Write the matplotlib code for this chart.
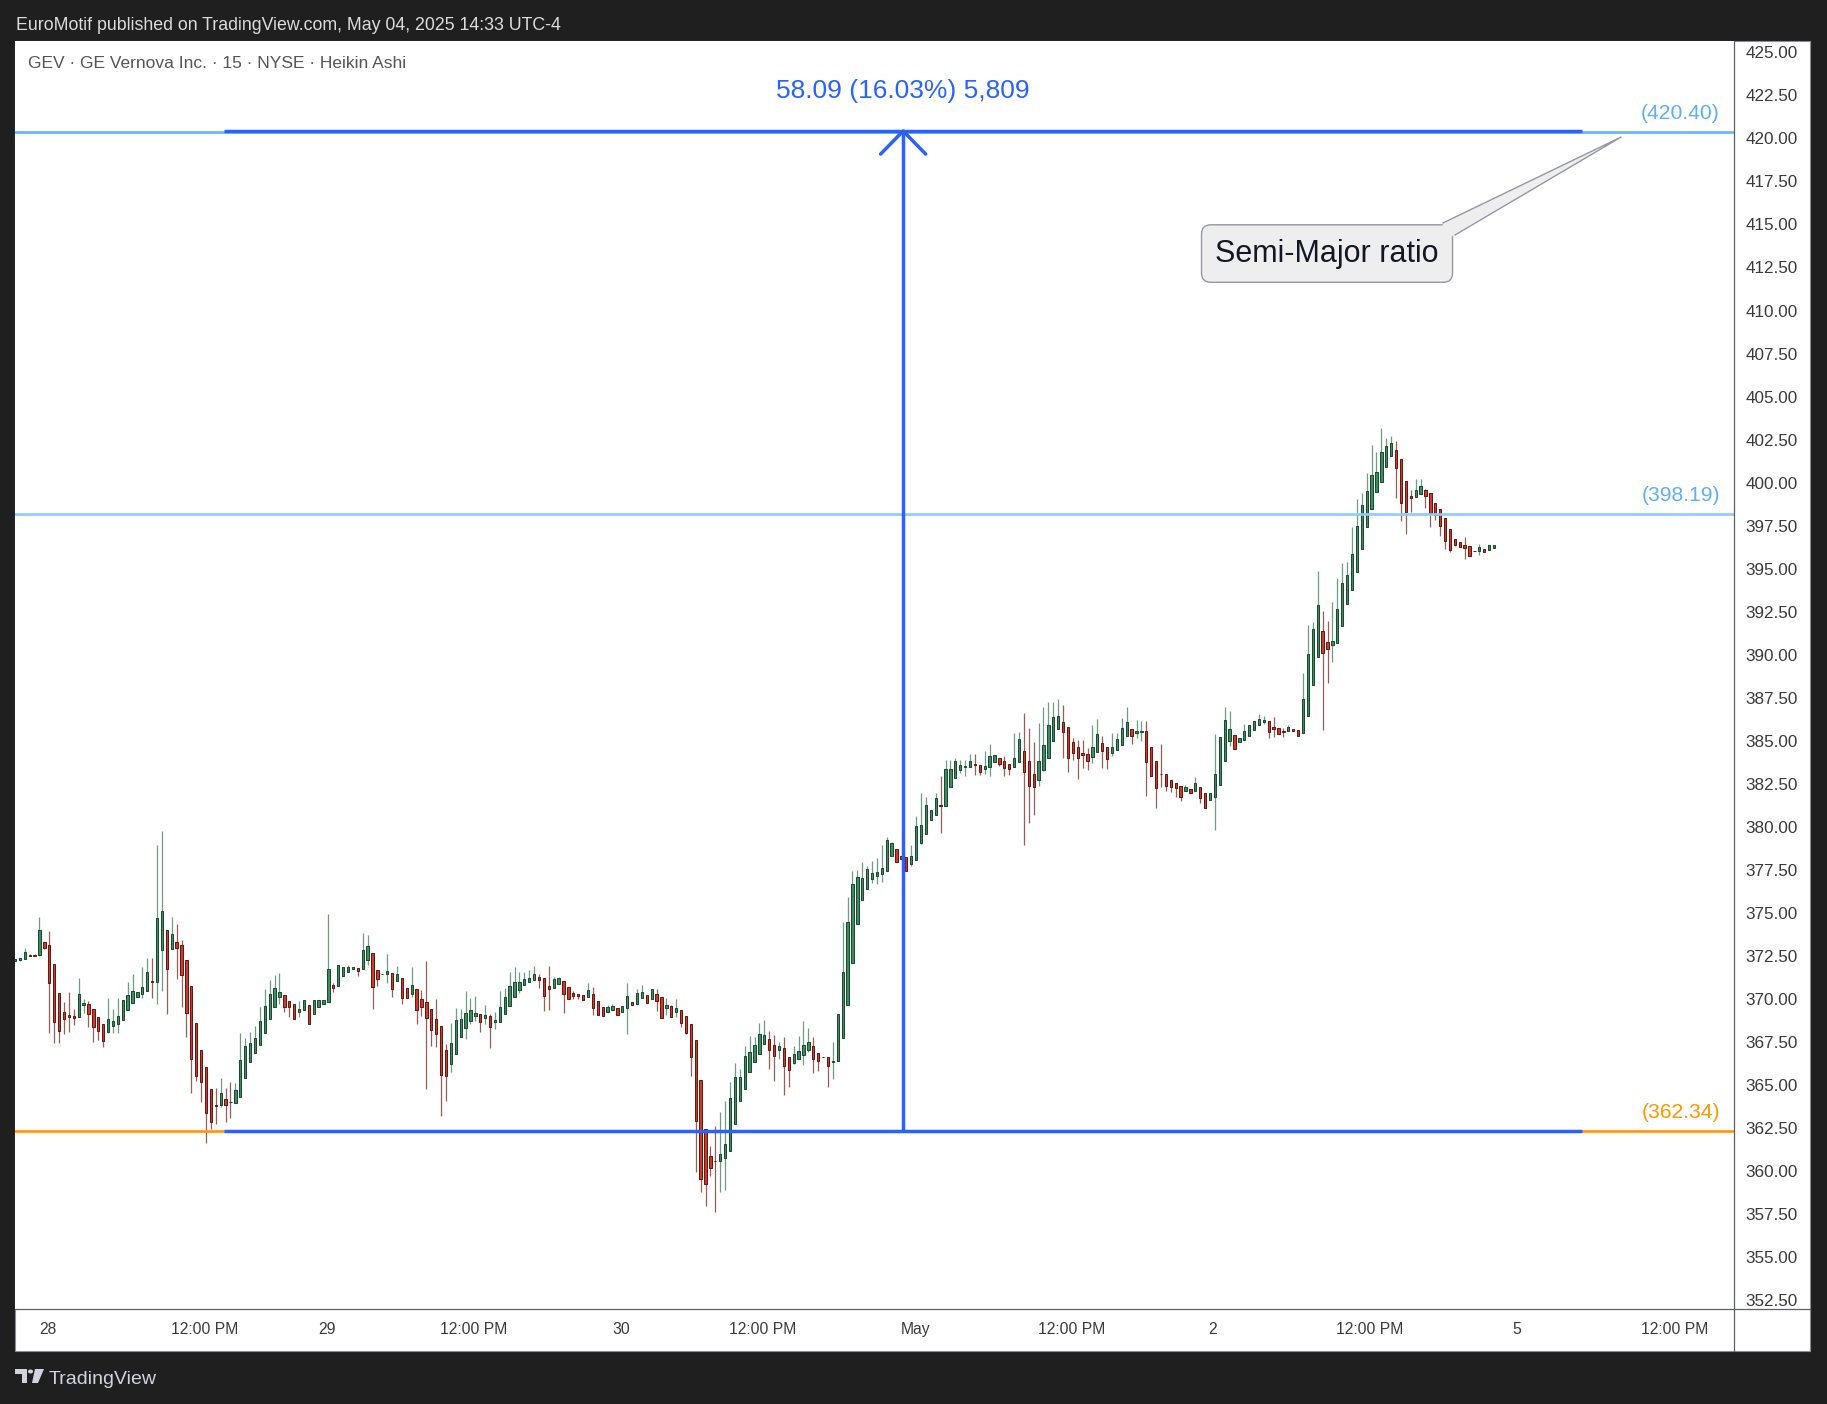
import numpy as np
import matplotlib
matplotlib.use("Agg")
import matplotlib.pyplot as plt
from matplotlib.patches import Rectangle, Polygon, Circle
from matplotlib.lines import Line2D

plt.rcParams['font.family'] = ['Liberation Sans', 'DejaVu Sans']

# GEV 15m Heikin Ashi candles
ha_open = [
    372.20, 372.25, 372.30, 372.54, 372.54, 372.54, 373.29, 373.12, 372.01, 370.33,
    369.22, 369.05, 369.01, 368.93, 369.63, 369.69, 369.40, 368.93, 368.53, 368.06,
    368.41, 368.53, 368.76, 369.34, 369.75, 370.10, 370.27, 370.45, 371.02, 371.01,
    372.83, 373.99, 372.89, 373.29, 373.12, 372.25, 370.74, 368.59, 367.02, 366.07,
    364.75, 363.84, 363.82, 364.17, 364.00, 363.94, 364.29, 365.39, 366.32, 366.84,
    367.31, 368.00, 368.82, 369.52, 370.10, 370.21, 369.86, 369.69, 369.26, 369.34,
    369.63, 369.11, 369.52, 369.69, 369.81, 370.79, 370.74, 371.32, 371.55, 371.72,
    371.78, 371.72, 372.25, 372.65, 371.67, 371.45, 371.43, 371.49, 371.03, 371.20,
    370.62, 370.31, 370.56, 369.98, 369.80, 369.40, 368.82, 368.41, 367.02, 366.24,
    366.82, 367.81, 368.33, 368.74, 369.03, 369.11, 368.91, 368.99, 368.68, 368.68,
    369.11, 369.61, 370.13, 370.54, 370.79, 370.97, 371.08, 371.26, 371.20, 370.73,
    370.62, 370.85, 371.02, 370.68, 370.33, 370.27, 370.21, 370.10, 370.27, 369.86,
    369.51, 369.26, 369.38, 369.46, 369.26, 369.46, 369.80, 369.69, 370.04, 370.21,
    369.98, 370.27, 370.10, 369.49, 369.57, 369.26, 369.34, 368.99, 368.53, 367.60,
    365.27, 362.42, 360.86, 360.58, 360.57, 360.78, 361.15, 362.72, 364.05, 364.75,
    365.74, 366.32, 366.78, 367.36, 367.65, 367.31, 367.02, 367.13, 366.61, 366.26,
    366.49, 366.72, 367.02, 367.25, 366.84, 366.62, 366.61, 366.32, 366.38, 367.71,
    369.63, 372.07, 374.34, 375.73, 376.37, 376.95, 377.13, 377.25, 377.42, 378.29,
    378.70, 378.29, 378.23, 377.83, 378.06, 379.05, 379.57, 380.38, 380.67, 381.25,
    381.20, 382.30, 382.82, 383.29, 383.46, 383.46, 383.64, 383.58, 383.35, 383.46,
    383.75, 383.99, 383.81, 383.64, 383.46, 383.75, 384.39, 383.81, 383.06, 382.71,
    383.29, 383.99, 384.97, 385.67, 386.08, 385.79, 384.92, 384.62, 384.28, 384.22,
    384.04, 384.33, 384.86, 384.62, 384.28, 384.45, 384.74, 385.26, 385.67, 385.44,
    385.50, 385.55, 384.62, 383.81, 383.07, 383.06, 382.71, 382.53, 382.36, 382.07,
    382.18, 382.07, 382.30, 381.95, 381.55, 381.72, 382.42, 383.81, 384.97, 385.32,
    384.92, 385.03, 385.26, 385.61, 385.90, 386.08, 386.14, 385.78, 385.72, 385.55,
    385.55, 385.66, 385.61, 385.43, 386.42, 388.22, 389.85, 391.36, 390.72, 390.55,
    390.66, 391.65, 392.93, 393.74, 394.79, 396.12, 397.40, 398.45, 399.44, 400.02,
    400.89, 401.53, 401.88, 401.35, 400.07, 399.20, 399.14, 399.32, 399.55, 399.38,
    398.80, 398.45, 397.92, 397.29, 396.70, 396.53, 396.36, 396.30, 396.02, 396.01,
    396.12, 396.07, 396.18,
]
ha_close = [
    372.30, 372.36, 372.75, 372.52, 372.52, 374.01, 372.94, 370.91, 368.64, 368.12,
    368.86, 368.93, 368.91, 370.27, 369.77, 369.11, 368.39, 368.16, 367.58, 368.82,
    368.70, 368.99, 369.92, 370.21, 370.45, 370.39, 370.68, 371.55, 371.00, 374.71,
    375.09, 371.76, 373.76, 372.94, 371.37, 369.17, 366.49, 365.49, 365.16, 363.36,
    362.83, 363.80, 364.52, 363.82, 363.98, 364.69, 366.44, 367.25, 367.42, 367.71,
    368.70, 369.57, 370.27, 370.62, 370.39, 369.52, 369.52, 368.82, 369.40, 369.92,
    368.53, 369.92, 369.92, 369.92, 371.72, 370.62, 371.96, 371.84, 371.84, 371.84,
    371.61, 372.83, 373.06, 370.68, 371.14, 371.43, 371.61, 370.56, 371.43, 370.04,
    370.04, 370.79, 369.38, 369.55, 368.91, 368.22, 367.98, 365.60, 365.54, 367.42,
    368.76, 368.84, 369.17, 369.34, 369.17, 368.68, 369.05, 368.39, 368.76, 369.51,
    370.09, 370.73, 370.97, 370.97, 371.14, 371.20, 371.43, 371.08, 370.19, 370.56,
    371.14, 371.20, 370.31, 369.98, 370.19, 370.19, 369.92, 370.50, 369.49, 369.09,
    369.03, 369.51, 369.57, 369.09, 369.57, 370.15, 369.63, 370.33, 370.39, 369.75,
    370.56, 369.90, 368.91, 369.63, 368.97, 369.46, 368.62, 368.04, 366.65, 362.93,
    359.56, 359.27, 360.20, 360.56, 360.97, 361.55, 364.23, 365.45, 365.45, 366.67,
    366.90, 367.31, 367.94, 367.89, 367.02, 366.67, 367.25, 366.09, 365.85, 366.78,
    366.96, 367.31, 367.48, 366.49, 366.38, 366.60, 366.09, 366.38, 369.11, 371.55,
    374.45, 376.66, 377.07, 377.01, 377.54, 377.30, 377.36, 377.59, 379.22, 379.05,
    377.94, 378.12, 377.42, 378.29, 380.03, 380.09, 381.25, 380.96, 381.66, 381.20,
    383.35, 383.35, 383.81, 383.58, 383.52, 383.81, 383.58, 383.17, 383.52, 384.10,
    384.16, 383.64, 383.40, 383.35, 383.99, 385.09, 383.17, 382.36, 382.30, 383.81,
    384.74, 385.90, 386.37, 386.43, 385.50, 383.99, 384.28, 383.99, 384.16, 383.81,
    384.62, 385.38, 384.39, 383.93, 384.62, 385.09, 385.73, 386.08, 385.26, 385.55,
    385.55, 383.75, 382.94, 382.24, 383.05, 382.36, 382.30, 382.24, 381.72, 382.30,
    381.95, 382.53, 381.66, 381.08, 381.95, 383.06, 385.21, 386.19, 385.67, 384.51,
    385.15, 385.55, 385.90, 386.14, 386.25, 386.19, 385.50, 385.70, 385.37, 385.49,
    385.78, 385.55, 385.26, 387.41, 390.02, 391.47, 392.87, 390.08, 390.31, 390.78,
    392.64, 394.15, 394.61, 395.83, 397.46, 398.68, 399.49, 400.42, 400.60, 401.76,
    402.11, 402.28, 400.83, 398.80, 398.27, 399.09, 399.55, 399.78, 399.20, 398.22,
    398.10, 397.46, 396.59, 396.07, 396.36, 396.24, 396.18, 395.72, 396.00, 396.24,
    395.95, 396.36, 396.36,
]
ha_high = [
    372.30, 372.40, 372.98, 372.60, 372.60, 374.76, 373.30, 373.95, 372.01, 370.33,
    369.79, 370.41, 369.42, 371.22, 370.00, 369.88, 369.40, 368.93, 368.53, 370.06,
    369.42, 370.06, 369.92, 370.99, 371.45, 370.39, 371.86, 372.38, 372.38, 378.95,
    379.76, 373.99, 374.76, 374.36, 373.43, 372.25, 370.74, 368.59, 367.02, 366.07,
    364.75, 364.81, 365.43, 364.81, 365.16, 365.10, 368.00, 367.71, 368.06, 368.41,
    369.52, 370.56, 371.08, 371.37, 371.49, 370.21, 369.86, 369.69, 369.86, 369.92,
    369.63, 369.92, 369.92, 369.92, 374.92, 370.91, 371.96, 371.84, 371.96, 371.84,
    371.78, 373.82, 373.70, 372.65, 371.67, 371.45, 372.59, 371.50, 371.92, 371.20,
    370.62, 371.86, 370.56, 370.52, 372.21, 369.40, 370.00, 368.41, 367.38, 368.60,
    369.49, 369.42, 370.46, 370.06, 370.15, 369.11, 369.63, 369.13, 369.24, 370.46,
    370.62, 371.57, 371.86, 371.57, 371.57, 371.68, 371.92, 371.45, 371.20, 371.92,
    371.28, 371.28, 371.02, 370.68, 370.46, 370.27, 370.21, 370.93, 370.68, 369.86,
    369.51, 369.63, 369.69, 369.46, 369.57, 370.93, 369.80, 370.56, 370.79, 370.21,
    370.56, 370.56, 370.10, 370.04, 369.63, 369.98, 369.34, 368.99, 368.53, 367.60,
    365.27, 362.42, 361.44, 362.60, 363.41, 364.05, 365.16, 366.26, 365.91, 367.29,
    367.87, 367.81, 368.58, 368.76, 368.16, 367.89, 367.52, 367.81, 366.61, 367.25,
    367.83, 368.70, 368.29, 367.79, 366.84, 366.62, 366.61, 367.48, 369.11, 374.45,
    375.91, 377.46, 377.48, 377.96, 377.71, 378.02, 378.18, 378.93, 379.40, 379.10,
    378.70, 378.29, 378.23, 378.93, 380.62, 381.95, 381.72, 380.96, 381.95, 382.94,
    383.87, 383.87, 383.97, 383.87, 383.87, 384.22, 384.22, 383.58, 384.41, 384.80,
    384.16, 383.99, 384.10, 383.64, 385.44, 385.50, 386.62, 385.73, 384.92, 386.02,
    386.95, 387.24, 387.24, 387.41, 387.06, 385.79, 385.15, 385.03, 385.03, 384.57,
    385.90, 386.25, 385.26, 384.62, 385.44, 385.44, 386.31, 386.95, 385.67, 386.19,
    386.14, 386.14, 384.62, 383.81, 384.80, 383.06, 382.71, 382.53, 382.36, 382.42,
    382.18, 382.88, 382.30, 381.95, 381.95, 385.38, 385.21, 386.95, 386.72, 385.32,
    385.15, 385.96, 385.90, 386.14, 386.54, 386.43, 386.14, 386.38, 385.72, 385.72,
    385.90, 385.66, 385.61, 388.92, 391.71, 391.88, 394.85, 392.52, 391.94, 393.04,
    394.44, 395.31, 395.37, 397.40, 399.03, 399.38, 400.54, 402.17, 401.76, 403.15,
    402.57, 402.69, 402.40, 401.35, 400.07, 399.55, 400.19, 400.19, 399.61, 399.38,
    398.80, 398.45, 397.92, 397.29, 396.70, 396.53, 396.86, 396.30, 396.02, 396.41,
    396.12, 396.36, 396.36,
]
ha_low = [
    372.20, 372.20, 372.30, 372.50, 372.50, 372.50, 372.90, 368.00, 367.42, 367.42,
    367.95, 368.10, 368.49, 368.93, 369.17, 368.39, 367.52, 367.62, 367.23, 368.00,
    368.00, 368.00, 368.76, 369.34, 369.75, 370.10, 370.04, 370.45, 370.08, 369.73,
    370.46, 369.15, 372.89, 371.18, 369.55, 367.81, 364.52, 365.20, 363.98, 361.65,
    362.43, 362.72, 363.71, 362.83, 363.07, 363.94, 364.29, 365.39, 366.32, 366.84,
    367.31, 368.00, 368.82, 369.52, 369.69, 369.22, 368.93, 368.82, 368.97, 369.34,
    368.53, 369.11, 369.52, 369.69, 369.81, 370.39, 370.74, 371.32, 371.55, 371.72,
    371.32, 371.72, 371.96, 369.44, 370.72, 371.43, 370.95, 370.13, 371.03, 369.69,
    370.04, 370.13, 368.55, 369.01, 364.79, 367.27, 367.23, 363.22, 364.09, 365.78,
    366.82, 367.81, 367.69, 368.56, 368.74, 368.10, 368.56, 367.17, 368.27, 368.68,
    369.11, 369.61, 370.13, 370.37, 370.79, 370.97, 371.08, 370.66, 369.32, 369.38,
    370.62, 370.85, 369.20, 369.98, 369.98, 369.98, 369.92, 370.10, 369.09, 369.09,
    369.03, 369.26, 369.38, 369.09, 369.26, 367.98, 369.63, 369.69, 370.04, 369.75,
    369.98, 369.32, 368.91, 369.09, 368.97, 368.97, 368.39, 367.98, 365.54, 359.96,
    358.80, 357.99, 359.73, 357.64, 358.80, 358.92, 361.15, 362.72, 364.05, 364.75,
    365.74, 366.32, 366.78, 367.36, 365.95, 365.25, 366.49, 364.44, 364.90, 366.20,
    366.49, 366.18, 366.94, 365.68, 365.80, 366.60, 364.90, 365.37, 366.38, 367.71,
    369.63, 372.07, 374.34, 375.73, 376.37, 376.72, 376.66, 376.78, 377.42, 378.29,
    377.94, 378.12, 377.42, 377.71, 378.06, 378.99, 379.57, 380.38, 380.67, 379.63,
    381.20, 382.30, 382.82, 383.11, 382.98, 383.46, 383.00, 383.00, 383.06, 382.98,
    383.75, 383.52, 382.98, 383.00, 383.46, 383.75, 378.97, 380.21, 380.67, 382.36,
    383.23, 383.99, 384.97, 385.67, 383.97, 383.17, 383.87, 382.77, 383.40, 383.29,
    383.70, 384.33, 383.40, 383.35, 384.10, 384.45, 384.74, 385.26, 384.80, 385.15,
    384.97, 381.78, 382.94, 381.08, 382.30, 382.07, 382.01, 381.72, 381.49, 382.07,
    381.95, 382.07, 381.37, 381.08, 381.55, 379.80, 382.42, 383.81, 384.68, 384.51,
    384.92, 385.03, 385.26, 385.61, 385.90, 385.96, 385.15, 385.20, 385.37, 385.20,
    385.55, 385.55, 385.26, 385.43, 386.42, 388.22, 389.85, 385.61, 388.38, 389.56,
    390.66, 391.65, 392.93, 393.74, 394.79, 396.12, 397.40, 398.45, 399.44, 400.02,
    400.89, 401.53, 399.13, 397.75, 397.00, 398.27, 399.14, 399.32, 398.51, 397.40,
    397.81, 396.88, 396.12, 395.95, 396.30, 396.24, 395.54, 395.72, 396.00, 395.77,
    395.95, 396.07, 396.18,
]

# time axis labels (positions in bar numbers)
x_tick_pos = [6.7, 38.8, 63.7, 93.7, 123.7, 152.7, 183.8, 215.8, 244.6, 276.7, 306.7, 338.8]
x_tick_labels = ['28', '12:00 PM', '29', '12:00 PM', '30', '12:00 PM',
                 'May', '12:00 PM', '2', '12:00 PM', '5', '12:00 PM']

# drawn levels
level_top = 420.40
level_mid = 398.19
level_low = 362.34
measure_top = 420.43
measure_low = 362.34
measure_bars = (42.7, 320.0)

W, H = 1827, 1404
fig = plt.figure(figsize=(W / 100, H / 100), dpi=100, facecolor='#1f1f1f')


def fx(px):
    return px / W


def fy(py):
    return 1 - py / H


# white chart panel
panel = Rectangle((fx(15), fy(1351)), fx(1810) - fx(15), fy(41) - fy(1351),
                  transform=fig.transFigure, facecolor='white',
                  edgecolor='#8a8d96', lw=0.8, zorder=-1)
fig.add_artist(panel)

ax = fig.add_axes([fx(15), fy(1309), fx(1734) - fx(15), fy(41) - fy(1309)])
ax.set_facecolor('white')
for s in ax.spines.values():
    s.set_visible(False)

o = np.array(ha_open)
c = np.array(ha_close)
hi = np.maximum(np.array(ha_high), np.maximum(o, c))
lo = np.minimum(np.array(ha_low), np.minimum(o, c))
x = np.arange(len(o))
up = c >= o
dn = ~up

body_bot = np.minimum(o, c)
body_h = np.maximum(np.abs(c - o), 0.03)

ax.vlines(x[up], lo[up], hi[up], color='#6e9c83', lw=0.9, zorder=2)
ax.vlines(x[dn], lo[dn], hi[dn], color='#945f59', lw=0.9, zorder=2)
ax.bar(x[up], body_h[up], bottom=body_bot[up], width=0.47, color='#3f8d62',
       edgecolor='#1d4a31', linewidth=0.75, zorder=3)
ax.bar(x[dn], body_h[dn], bottom=body_bot[dn], width=0.47, color='#d23a2b',
       edgecolor='#5e1c14', linewidth=0.75, zorder=3)

# horizontal levels
ax.axhline(level_top, color='#64b5f6', lw=1.9, zorder=4)
ax.axhline(level_mid, color='#90caf9', lw=1.9, zorder=4)
ax.axhline(level_low, color='#ff9800', lw=1.9, zorder=4)
for lvl, col in [(level_top, '#5fb0f3'), (level_mid, '#5fb0f3'), (level_low, '#ff9800')]:
    ax.annotate(f'({lvl:.2f})', xy=(1, lvl), xycoords=('axes fraction', 'data'),
                xytext=(-14, 18), textcoords='offset pixels', ha='right',
                va='center', fontsize=15.2, color=col)

# price range measurement
mx0, mx1 = measure_bars
mmid = (mx0 + mx1) / 2
blue = '#2962ff'
ax.hlines([measure_top, measure_low], mx0, mx1, color=blue, lw=2.5, zorder=5)
ax.vlines(mmid, measure_low, measure_top, color=blue, lw=2.5, zorder=5)
ax.plot([mmid - 4.6, mmid, mmid + 4.6], [measure_top - 1.34, measure_top, measure_top - 1.34],
        color=blue, lw=2.5, solid_capstyle='round', zorder=5)
diff = measure_top - measure_low
pct = diff / measure_low * 100
ax.annotate(f'{diff:.2f} ({pct:.2f}%) {int(round(diff * 100)):,}', xy=(mmid, measure_top),
            xytext=(0, 40), textcoords='offset pixels', ha='center', va='center',
            fontsize=19, color=blue, zorder=6)

# callout
ax.text(267.9, 413.31, 'Semi-Major ratio', ha='center', va='center', fontsize=22,
        color='#131722', zorder=6,
        bbox=dict(boxstyle='round,pad=0.45,rounding_size=0.3', fc='#eeeeee',
                  ec='#9598a1', lw=1))
ax.add_patch(Polygon([(291.0, 414.10), (291.6, 415.09), (327.95, 420.08), (294.05, 414.39)],
                     closed=True, fc='#eeeeee', ec='none', zorder=7))
ax.plot([291.6, 327.95, 294.05], [415.09, 420.08, 414.39], color='#9598a1', lw=1, zorder=7)

ax.set_xlim(0, 351.0)
ax.set_ylim(351.98, 425.66)

ax.yaxis.tick_right()
ax.set_yticks(np.arange(352.5, 425.01, 2.5))
ax.yaxis.set_major_formatter(matplotlib.ticker.FormatStrFormatter('%.2f'))
ax.tick_params(axis='y', length=0, pad=8.5, labelsize=12.3, labelcolor='#3a3a3a')
ax.set_xticks(x_tick_pos)
ax.set_xticklabels(x_tick_labels)
ax.tick_params(axis='x', length=0, pad=9.5, labelsize=11.3, labelcolor='#3a3a3a')
for lbl in ax.get_yticklabels():
    lbl.set_y(lbl.get_position()[1])

# separators of the price and time scales
sep = '#5d606b'
fig.add_artist(Line2D([fx(1734), fx(1734)], [fy(41), fy(1351)], color=sep, lw=0.9,
                      transform=fig.transFigure))
fig.add_artist(Line2D([fx(15), fx(1810)], [fy(1309), fy(1309)], color=sep, lw=0.9,
                      transform=fig.transFigure))

# header and footer
fig.text(fx(15.6), fy(25), 'EuroMotif published on TradingView.com, May 04, 2025 14:33 UTC-4',
         color='#dcdcdc', fontsize=12.8, ha='left', va='center')
fig.text(fx(27.7), fy(64), 'GEV \u00b7 GE Vernova Inc. \u00b7 15 \u00b7 NYSE \u00b7 Heikin Ashi',
         color='#555555', fontsize=12.5, ha='left', va='center')

logo_col = '#d1d4dc'
fig.add_artist(Polygon([(fx(15), fy(1369)), (fx(27), fy(1369)), (fx(27), fy(1383)),
                        (fx(21.5), fy(1383)), (fx(21.5), fy(1374)), (fx(15), fy(1374))],
                       closed=True, transform=fig.transFigure, fc=logo_col, ec='none'))
fig.add_artist(Circle((fx(30.5), fy(1371.5)), 2.6 / W, transform=fig.transFigure,
                      fc=logo_col, ec='none'))
fig.add_artist(Polygon([(fx(35), fy(1369)), (fx(44), fy(1369)), (fx(38), fy(1383)),
                        (fx(32), fy(1383))],
                       closed=True, transform=fig.transFigure, fc=logo_col, ec='none'))
fig.text(fx(49), fy(1379), 'TradingView', color=logo_col, fontsize=14, ha='left', va='center')

fig.savefig('out.png', dpi=100, facecolor=fig.get_facecolor())
